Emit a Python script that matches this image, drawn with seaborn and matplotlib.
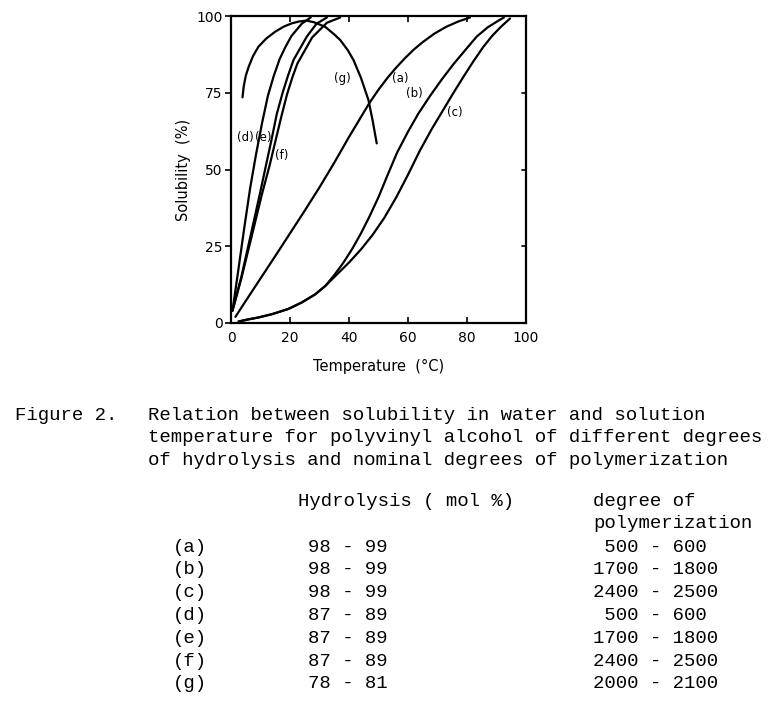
import numpy as np
import pandas as pd
import matplotlib
matplotlib.use("Agg")
import matplotlib.pyplot as plt
import seaborn as sns

# ---- data ----
a_T = [1.5, 5, 10, 15, 20, 25, 30, 35, 40, 44, 47, 50, 53, 56, 59, 62, 65, 69, 73, 77, 81]
a_S = [2, 7.2, 14.5, 21.8, 29.2, 36.6, 44.2, 52.2, 60.6, 67, 71.8, 76, 79.8, 83.2, 86.3, 89.1, 91.5,
       94.3, 96.5, 98.2, 99.5]

b_T = [2.6, 6, 9.3, 14, 19.5, 24, 28.5, 32, 35, 38, 41, 44, 47, 50, 53, 56.3, 60, 63.5, 67.5, 71.5,
       75.4, 79.5, 83.3, 87, 90.5, 92.5]
b_S = [0.5, 1.2, 1.8, 2.9, 4.6, 6.7, 9.3, 12.1, 15.6, 19.5, 24, 29.1, 34.8, 41, 48, 55.5, 62.3, 68.2,
       74, 79.4, 84.3, 89, 93.3, 96.3, 98.4, 99.5]

c_T = [2.6, 6, 9.3, 14, 19.5, 24, 28.5, 32, 36, 40, 44, 48, 52, 56, 60, 64, 68, 72, 75.5, 78.8, 82,
       85.5, 88.5, 91.2, 93, 94.6]
c_S = [0.5, 1.2, 1.8, 2.9, 4.6, 6.7, 9.3, 12.1, 15.9, 19.7, 23.9, 28.7, 34.3, 40.9, 48.3, 56.1, 63.1,
       69.5, 75.1, 80.2, 85, 89.9, 93.5, 96.2, 97.8, 99.2]

d_T = [0.5, 2, 4.5, 6.5, 8.5, 10.5, 12.5, 14.5, 16.5, 18.5, 20.5, 24, 27]
d_S = [4, 14, 31, 44, 55, 65, 74, 80.5, 86, 90, 93.5, 97.5, 99.5]

e_T = [0.5, 3.5, 7, 10, 12, 13.8, 15.5, 17.5, 19.3, 21.2, 25.7, 29, 32.5]
e_S = [4, 15, 30, 43, 52, 60, 68, 75, 80.5, 85.7, 93.3, 97.5, 99.5]

f_T = [0.5, 3.5, 7.2, 10.5, 13, 15, 17, 19, 20.8, 22.5, 27.5, 32.5, 37]
f_S = [4, 14.5, 29, 42, 51, 59, 67, 74.5, 80, 84.5, 93, 97.8, 99.5]

g_T = [3.9, 4.3, 5, 6, 7.5, 9.3, 12, 15, 18, 20.6, 23, 25.5, 28, 31.9, 35, 37, 39.5, 41.5, 44, 46.6, 48, 49.4]
g_S = [73.5, 77, 80.5, 83.5, 87, 90, 92.7, 94.9, 96.6, 97.6, 98.2, 98.5, 98, 96.5, 94, 92.2, 89, 85.7, 80,
       72.6, 66, 58.5]

curve_names = ["a", "b", "c", "d", "e", "f", "g"]
label_T = [57.3, 62.1, 75.9, 4.9, 11.0, 17.2, 37.6]
label_S = [79.5, 74.6, 68.6, 60.3, 60.3, 54.7, 79.5]

x_ticks = [0, 20, 40, 60, 80, 100]
y_ticks = [0, 25, 50, 75, 100]

caption_lines = [
    "Relation between solubility in water and solution",
    "temperature for polyvinyl alcohol of different degrees",
    "of hydrolysis and nominal degrees of polymerization",
]
row_labels = ["(a)", "(b)", "(c)", "(d)", "(e)", "(f)", "(g)"]
hydrolysis = ["98 - 99", "98 - 99", "98 - 99", "87 - 89", "87 - 89", "87 - 89", "78 - 81"]
polymerization = [" 500 - 600", "1700 - 1800", "2400 - 2500", " 500 - 600", "1700 - 1800",
                  "2400 - 2500", "2000 - 2100"]

# ---- build long table ----
series = {"a": (a_T, a_S), "b": (b_T, b_S), "c": (c_T, c_S), "d": (d_T, d_S),
          "e": (e_T, e_S), "f": (f_T, f_S), "g": (g_T, g_S)}
frames = []
for name, (tt, ss) in series.items():
    frames.append(pd.DataFrame({"T": tt, "S": ss, "curve": name}))
df = pd.concat(frames, ignore_index=True)

sns.set_style("ticks")
plt.rcParams["font.family"] = ["DejaVu Sans"]
plt.rcParams["text.color"] = "black"
plt.rcParams["axes.labelcolor"] = "black"

W, H = 784, 717
fig = plt.figure(figsize=(W / 100, H / 100), dpi=100)
L, R, T_, B = 231, 526, 16, 323
ax = fig.add_axes([L / W, 1 - B / H, (R - L) / W, (B - T_) / H])

sns.lineplot(data=df, x="T", y="S", units="curve", estimator=None, sort=False,
             color="black", linewidth=1.6, ax=ax, legend=False)

ax.set_xlim(0, 100)
ax.set_ylim(0, 100)
ax.set_xticks(x_ticks)
ax.set_yticks(y_ticks)
ax.set_xticklabels([str(v) for v in x_ticks])
ax.set_yticklabels([str(v) for v in y_ticks])
for sp in ax.spines.values():
    sp.set_visible(True)
    sp.set_color("black")
    sp.set_linewidth(1.6)

ax.tick_params(axis="x", which="both", direction="in", length=4, width=1.2,
               top=True, labeltop=False, labelsize=10, pad=6, colors="black")
ax.tick_params(axis="y", which="both", direction="out", length=4, width=1.2,
               right=False, labelsize=10, pad=2, colors="black")
# inward ticks on the right side
for yv in y_ticks[1:-1]:
    ax.plot([98.6, 100], [yv, yv], color="black", lw=1.2, clip_on=False)

ax.set_xlabel("Temperature  (°C)", fontsize=10.5, color="black")
ax.set_ylabel("Solubility  (%)", fontsize=10.5, color="black")
ax.xaxis.set_label_coords(0.5, -0.118)
ax.yaxis.set_label_coords(-0.135, 0.5)

for name, lt, ls in zip(curve_names, label_T, label_S):
    ax.text(lt, ls, f"({name})", fontsize=8.5, ha="center", va="center", color="black")

# ---- caption ----
mono = ["Liberation Mono", "DejaVu Sans Mono"]
fs = 13.65

def px(x, y, s, **kw):
    fig.text(x / W, 1 - y / H, s, family=mono, fontsize=fs, va="center", ha="left", color="black", **kw)

px(15, 415, "Figure 2.")
for i, line in enumerate(caption_lines):
    px(148, 415 + 23 * i, line)
px(298, 501, "Hydrolysis ( mol %)")
px(593, 501, "degree of")
px(593, 524, "polymerization")
for i in range(len(row_labels)):
    y = 547 + 22.8 * i
    px(173, y, row_labels[i])
    px(308, y, hydrolysis[i])
    px(593, y, polymerization[i])

fig.savefig("out.png", dpi=100)
